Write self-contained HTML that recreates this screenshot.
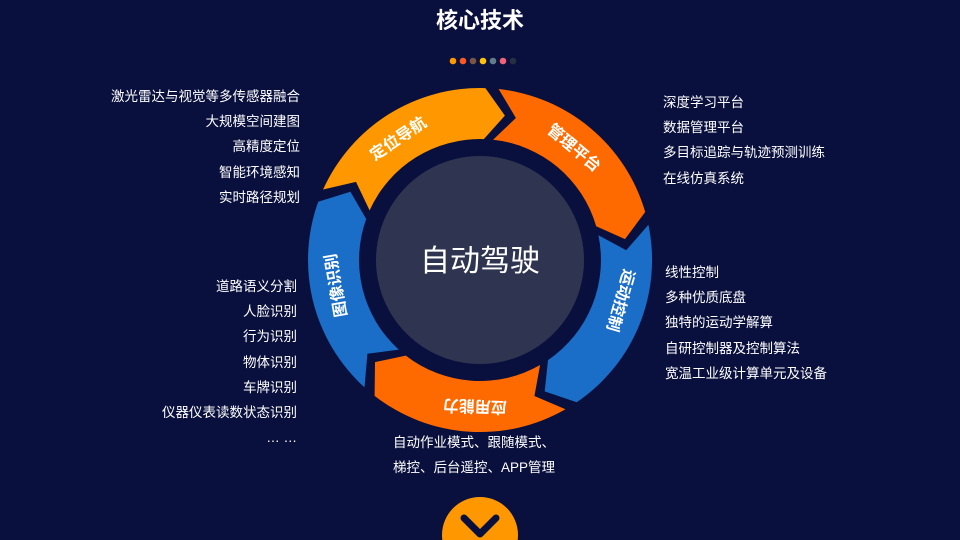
<!DOCTYPE html>
<html><head><meta charset="utf-8"><style>
body{margin:0;width:960px;height:540px;overflow:hidden;background:#0a103d;font-family:"Liberation Sans","Noto Sans CJK SC",sans-serif;color:#fff}
.t{position:absolute;font-size:13.5px;line-height:25.2px;white-space:nowrap}
</style></head><body>
<svg width="960" height="540" style="position:absolute;left:0;top:0" id="s">
<rect width="960" height="540" fill="#0a103d"/>
<text x="480" y="28" text-anchor="middle" font-size="22" font-weight="bold" fill="#fff" font-family="Liberation Sans,Noto Sans CJK SC,sans-serif">核心技术</text>
<g>
<circle cx="453" cy="61" r="3.3" fill="#ff9800"/><circle cx="463" cy="61" r="3.3" fill="#ff5722"/><circle cx="473" cy="61" r="3.3" fill="#795548"/><circle cx="483" cy="61" r="3.3" fill="#ffc107"/><circle cx="493" cy="61" r="3.3" fill="#607d8b"/><circle cx="503" cy="61" r="3.3" fill="#f06277"/><circle cx="513" cy="61" r="3.3" fill="#263040"/>
</g>
<g id="ring"></g>
<circle cx="480" cy="260" r="104" fill="#2f3550"/>
<text x="480" y="271" text-anchor="middle" font-size="30" fill="#fff" font-family="Liberation Sans,Noto Sans CJK SC,sans-serif">自动驾驶</text>
<g font-size="16" font-weight="bold" fill="#fff" text-anchor="middle" font-family="Liberation Sans,Noto Sans CJK SC,sans-serif">
<text transform="translate(480,260) rotate(40) translate(0,-141)">管理平台</text>
<text transform="translate(480,260) rotate(106) translate(0,-141)">运动控制</text>
<text transform="translate(480,260) rotate(182) translate(0,-141)">应用能力</text>
<text transform="translate(480,260) rotate(260) translate(0,-141)">图像识别</text>
<text transform="translate(480,260) rotate(326) translate(0,-141)">定位导航</text>
</g>
<circle cx="480" cy="535" r="38" fill="#ff9800"/>
<polyline points="464,518 480,534 496,518" fill="none" stroke="#0a103d" stroke-width="7" stroke-linecap="round" stroke-linejoin="round"/>
</svg>
<script>
(function(){
var cx=480,cy=260,R=172,r=121,m=(R+r)/2,tip=8;
function p(rad,deg){var a=deg*Math.PI/180;return (cx+rad*Math.sin(a)).toFixed(1)+","+(cy-rad*Math.cos(a)).toFixed(1);}
var cols=["#ff6a00","#1a6ec8","#ff6a00","#1a6ec8","#ff9800"];
var g=document.getElementById("ring"),h="";
for(var i=0;i<5;i++){
var s=4+72*i+2.2,e=s+72-4.4;
var d="M"+p(R,s)+" A"+R+","+R+" 0 0 1 "+p(R,e)+" L"+p(m,e+tip)+" L"+p(r,e)+" A"+r+","+r+" 0 0 0 "+p(r,s)+" L"+p(m,s+tip)+" Z";
h+='<path d="'+d+'" fill="'+cols[i]+'"/>';
}
g.innerHTML=h;
})();
</script>
<div class="t" style="right:660px;top:84px;text-align:right">激光雷达与视觉等多传感器融合<br>大规模空间建图<br>高精度定位<br>智能环境感知<br>实时路径规划</div>
<div class="t" style="left:663px;top:90px">深度学习平台<br>数据管理平台<br>多目标追踪与轨迹预测训练<br>在线仿真系统</div>
<div class="t" style="left:665px;top:260px">线性控制<br>多种优质底盘<br>独特的运动学解算<br>自研控制器及控制算法<br>宽温工业级计算单元及设备</div>
<div class="t" style="right:663px;top:274px;text-align:right">道路语义分割<br>人脸识别<br>行为识别<br>物体识别<br>车牌识别<br>仪器仪表读数状态识别<br>… …</div>
<div class="t" style="left:393px;top:430px">自动作业模式、跟随模式、<br>梯控、后台遥控、APP管理</div>
</body></html>
